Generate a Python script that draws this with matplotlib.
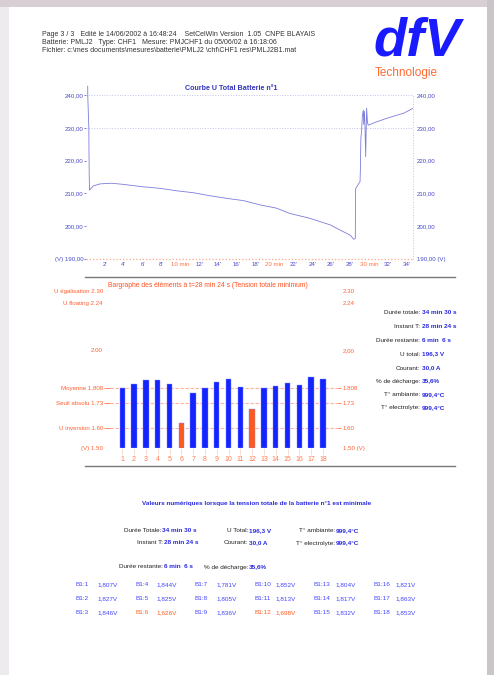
import matplotlib
matplotlib.use('Agg')
import matplotlib.pyplot as plt
from matplotlib.patches import Rectangle
from matplotlib.lines import Line2D

plt.rcParams['font.family'] = ['Liberation Sans', 'DejaVu Sans']

W, H = 494, 675

# ---------------- data ----------------
header_lines = [
    "Page 3 / 3   Edité le 14/06/2002 à 16:48:24    SetCelWin Version  1.05  CNPE BLAYAIS",
    "Batterie: PMLJ2   Type: CHF1   Mesure: PMJCHF1 du 05/06/02 à 16:18:06",
    "Fichier: c:\\mes documents\\mesures\\batterie\\PMLJ2 \\chf\\CHF1 res\\PMLJ2B1.mat",
]

curve_t = [0.18, 0.19, 0.30, 0.32, 0.33, 0.34, 0.35, 0.37, 0.78, 1.5, 2.7, 3.8, 6.1,
           7.85, 9.6, 11.4, 13.1, 14.9, 16.7, 18.45, 20.2, 21.6, 23.75, 25.9, 27.3,
           28.0, 28.40, 28.56, 28.57, 28.58, 28.60, 29.06, 29.10, 29.13, 29.15, 29.23,
           29.30, 29.41, 29.45, 29.52, 29.58, 29.66, 29.70, 29.76, 29.85, 29.94, 30.12,
           30.6, 31.2, 31.9, 32.8, 33.65, 34.2, 34.64]
curve_v = [242.7, 239.5, 230.0, 222.0, 219.4, 215.4, 214.4, 211.0, 212.3, 212.9, 213.1,
           212.8, 212.0, 211.55, 210.8, 210.2, 209.3, 208.5, 207.8, 206.5, 205.5, 203.9,
           202.4, 200.4, 198.3, 197.3, 196.0, 196.3, 203.4, 209.5, 211.5, 213.6, 217.6,
           223.8, 226.8, 229.3, 233.5, 235.4, 231.0, 235.0, 230.9, 221.2, 227.8, 236.0,
           231.5, 230.8, 231.0, 231.6, 232.2, 232.9, 233.7, 234.4, 235.2, 235.9]

volt_ticks = [190, 200, 210, 220, 230, 240]
volt_left_labels = ['(V) 190,00', '200,00', '210,00', '220,00', '230,00', '240,00']
volt_right_labels = ['190,00 (V)', '200,00', '210,00', '220,00', '230,00', '240,00']
time_ticks = [2, 4, 6, 8, 10, 12, 14, 16, 18, 20, 22, 24, 26, 28, 30, 32, 34]
time_labels = ["2'", "4'", "6'", "8'", "10 min", "12'", "14'", "16'", "18'", "20 min",
               "22'", "24'", "26'", "28'", "30 min", "32'", "34'"]

cells = list(range(1, 19))
cell_volts = [1.807, 1.827, 1.846, 1.844, 1.825, 1.626, 1.781, 1.805, 1.836,
              1.852, 1.813, 1.698, 1.804, 1.817, 1.832, 1.821, 1.863, 1.853]
low_cells = [6, 12]
bar_base = 1.50
bar_ticks = [1.50, 1.60, 1.73, 1.808, 2.00, 2.24, 2.30]
bar_left_labels = ['(V) 1.50', 'U inversion 1.60', 'Seuil absolu 1.73', 'Moyenne 1,808',
                   '2.00', 'U floating 2.24', 'U égalisation 2.30']
bar_right_labels = ['1,50 (V)', '1.60', '1.73', '1.808', '2,00', '2.24', '2.30']
ref_levels = [1.808, 1.73, 1.60]

info_labels = ['Durée totale:', 'Instant T:', 'Durée restante:', 'U total:', 'Courant:',
               '% de décharge:', 'T° ambiante:', 'T° electrolyte:']
info_values = ['34 min 30 s', '28 min 24 s', '6 min  6 s', '196,3 V', '30,0 A',
               '35,6%', '999,4°C', '999,4°C']

# ---------------- figure ----------------
fig = plt.figure(figsize=(W / 100, H / 100), dpi=100)
fig.patch.set_facecolor('white')


def rect(x0, y0, x1, y1, color):
    fig.add_artist(Rectangle((x0 / W, 1 - y1 / H), (x1 - x0) / W, (y1 - y0) / H,
                             transform=fig.transFigure, color=color, zorder=0, lw=0))


def ft(x, y, s, **kw):
    kw.setdefault('va', 'center')
    kw.setdefault('fontsize', 4.6)
    fig.text(x / W, 1 - y / H, s, **kw)


def hline(x0, x1, y, **kw):
    fig.add_artist(Line2D([x0 / W, x1 / W], [1 - y / H, 1 - y / H],
                          transform=fig.transFigure, **kw))


# page surroundings
rect(0, 0, W, 7, '#d8cfd5')
rect(487, 0, W, H, '#c9c5c9')
rect(0, 7, 9, H, '#eeebee')

# header
for i, line in enumerate(header_lines):
    ft(42, 34.3 + i * 8.2, line, color='#333333', fontsize=5.0)

# logo
ft(373, 55, 'dfV', fontsize=39, weight='bold', style='italic', color='#1a1aff',
   ha='left', va='baseline')
ft(375, 73, 'Technologie', fontsize=8.5, color='#ff6a30', ha='left')

# ---------------- top curve ----------------
ax = fig.add_axes([86 / W, 1 - 259 / H, 327 / W, 175 / H])
xmax = 327 / 9.43
ymax = 190 + 175 / 3.28
ax.set_xlim(0, xmax)
ax.set_ylim(190, ymax)
for s in ax.spines.values():
    s.set_visible(False)
ax.axhline(240, color='#c4c4f0', lw=0.7, ls=':')
ax.axhline(230, color='#c4c4f0', lw=0.7, ls=':')
ax.axhline(190, color='#ffa888', lw=0.9, ls=':', clip_on=False)
ax.axvline(xmax, ymin=0, ymax=(240 - 190) / (ymax - 190), color='#c4c4f0', lw=0.7,
           ls=':', clip_on=False)
ax.plot(curve_t, curve_v, color='#7c7cdc', lw=0.6)
ax.set_yticks(volt_ticks, volt_left_labels, fontsize=4.4, color='#4a4ac8')
ax.tick_params(axis='y', length=1.5, width=0.5, color='#4a4ac8', pad=0.5)
ax.set_xticks(time_ticks, time_labels, fontsize=4.4)
ax.tick_params(axis='x', length=0, pad=2.5)
for lab in ax.get_xticklabels():
    lab.set_color('#ff7040' if 'min' in lab.get_text() else '#4a4ad0')
ax2 = ax.twinx()
ax2.set_ylim(190, ymax)
for s in ax2.spines.values():
    s.set_visible(False)
ax2.set_yticks(volt_ticks, volt_right_labels, fontsize=4.4, color='#4a4ac8')
ax2.tick_params(axis='y', length=0, pad=3)
ft(231, 88, 'Courbe U Total Batterie n°1', fontsize=5.1, weight='bold', color='#3535c0',
   ha='center')

hline(85, 455, 277, color='#7a7a7a', lw=1.0)

# ---------------- bar chart ----------------
ft(207.5, 285.7, 'Bargraphe des éléments à t=28 min 24 s (Tension totale minimum)',
   fontsize=4.9, color='#ff5020', ha='center')

bx = fig.add_axes([110 / W, 1 - 448 / H, 227 / W, 157 / H])
bx.set_xlim(-0.042, 19.19)
bx.set_ylim(1.50, 2.30)
for s in bx.spines.values():
    s.set_visible(False)
for lvl in ref_levels:
    bx.axhline(lvl, color='#ffb49a', lw=0.8, ls=(0, (3, 1.5)), zorder=0)
bar_colors = ['#ff5a1a' if c in low_cells else '#1424ff' for c in cells]
bx.bar(cells, [v - bar_base for v in cell_volts], bottom=bar_base, width=0.45,
       color=bar_colors, edgecolor='#7f8cff', linewidth=0.3, zorder=2)
bx.set_xticks(cells, [str(c) for c in cells], fontsize=5, color='#ff7a50')
bx.tick_params(axis='x', length=5, width=0.5, color='#f2cfc0', pad=0.5)
bx.set_yticks(bar_ticks, bar_left_labels, fontsize=4.4, color='#ff6030')
bx.tick_params(axis='y', length=4, width=0.7, color='#ff8a60', pad=1)
bx2 = bx.twinx()
bx2.set_ylim(1.50, 2.30)
for s in bx2.spines.values():
    s.set_visible(False)
bx2.set_yticks(bar_ticks, bar_right_labels, fontsize=4.4, color='#ff6030')
bx2.tick_params(axis='y', length=3, width=0.7, color='#ff8a60', pad=1)
for tk_l, tk_r, val in zip(bx.yaxis.get_major_ticks(), bx2.yaxis.get_major_ticks(), bar_ticks):
    if val not in ref_levels:
        tk_l.tick1line.set_visible(False)
        tk_r.tick2line.set_visible(False)

info_y = [313, 326.7, 341, 354, 368, 381, 395, 408]
for yy, lab, val in zip(info_y, info_labels, info_values):
    ft(420, yy, lab, color='#222222', ha='right')
    ft(421.5, yy, val, color='#2a2ae0', weight='bold', ha='left')

hline(85, 455, 466, color='#7a7a7a', lw=1.0)

# ---------------- numeric values ----------------
ft(257, 503, 'Valeurs numériques lorsque la tension totale de la batterie n°1 est minimale',
   fontsize=4.6, weight='bold', color='#2a2ae0', ha='center')

rows = [
    (531, [(161, 'Durée Totale:', info_values[0]), (248, 'U Total:', info_values[3]),
           (335, 'T° ambiante:', info_values[6])]),
    (543, [(163, 'Instant T:', info_values[1]), (248, 'Courant:', info_values[4]),
           (335, 'T° electrolyte:', info_values[7])]),
    (567, [(163, 'Durée restante:', info_values[2]), (248, '% de décharge:', info_values[5])]),
]
for yy, items in rows:
    for xx, lab, val in items:
        ft(xx, yy, lab, color='#222222', ha='right')
        ft(xx + 0.5, yy, val, color='#2a2ae0', weight='bold', ha='left')

row_y = [585, 598.3, 612.3]
for i, (c, v) in enumerate(zip(cells, cell_volts)):
    col, row = divmod(i, 3)
    colr = '#ff5a1a' if c in low_cells else '#4646ff'
    ft(75.4 + col * 59.6, row_y[row], f'B1:{c}', color=colr, ha='left')
    ft(97 + col * 59.6, row_y[row], f'{v:.3f}'.replace('.', ',') + 'V', color=colr,
       ha='left')

fig.savefig('out.png', dpi=100, facecolor=fig.get_facecolor())
